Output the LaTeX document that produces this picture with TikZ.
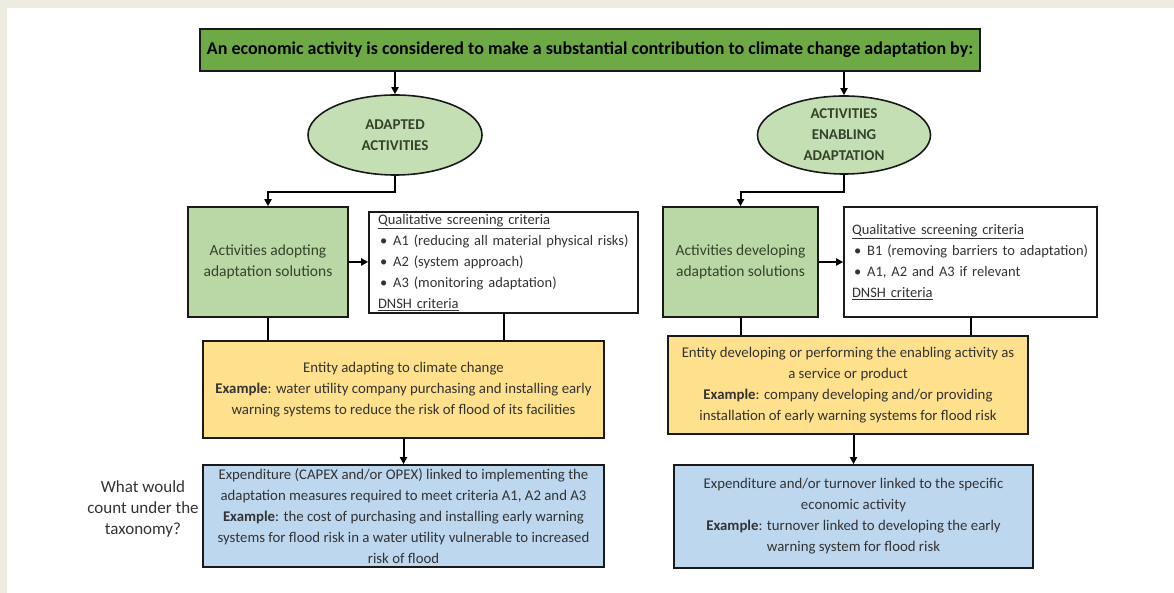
\documentclass[tikz,border=0pt]{standalone}
\usepackage{fontspec}
\setmainfont{Carlito}
\usetikzlibrary{shapes.geometric,arrows.meta}

\definecolor{pagebg}{HTML}{EEEBE0}
\definecolor{topgreen}{HTML}{6DAA45}
\definecolor{ellgreen}{HTML}{C5DFB4}
\definecolor{boxgreen}{HTML}{BAD8A5}
\definecolor{boxyellow}{HTML}{FFE08C}
\definecolor{boxblue}{HTML}{BDD7EE}
\definecolor{txtgray}{HTML}{333333}
\definecolor{txtgreen}{HTML}{34432A}

\tikzset{
    base/.style={draw=black!90, line width=1.6pt, inner sep=0pt, align=center,
        text=txtgray, font=\fontsize{14.8}{21}\selectfont},
    topbox/.style={base, fill=topgreen, line width=2.2pt, text=black,
        minimum width=780pt, minimum height=42pt,
        font=\bfseries\fontsize{18}{20}\selectfont},
    ell/.style={base, ellipse, fill=ellgreen, inner xsep=0pt, inner ysep=-8pt,
        text=txtgreen, font=\bfseries\fontsize{15}{21}\selectfont},
    greenbox/.style={base, fill=boxgreen, text=txtgreen,
        font=\fontsize{15.5}{21}\selectfont},
    critbox/.style={base, fill=white, align=left,
        font=\fontsize{14.5}{21}\selectfont},
    yellowbox/.style={base, fill=boxyellow},
    bluebox/.style={base, fill=boxblue},
    arr/.style={line width=2pt, -{Triangle[length=7pt,width=7pt]}},
    link/.style={line width=2pt}
}
\newcommand{\critbullet}[1]{\mbox{\hspace*{2pt}\textbullet\hspace{6pt}#1}}

\begin{document}
\begin{tikzpicture}[x=1pt,y=-1pt]
    \useasboundingbox (0,0) rectangle (1174,593);
    \fill[pagebg] (0,0) rectangle (1174,8);
    \fill[pagebg] (0,0) rectangle (7,593);

    \node[topbox] (top) at (590,50) {An economic activity is considered to make a substantial contribution to climate change adaptation by:};

    \node[ell, minimum width=174pt, minimum height=80pt] (adapted) at (395,135) {ADAPTED\\ACTIVITIES};
    \node[ell, minimum width=173pt, minimum height=78pt] (enabling) at (844,135) {ACTIVITIES\\ENABLING\\ADAPTATION};

    \node[greenbox, minimum width=160pt, minimum height=110pt] (adopting) at (268,262) {Activities adopting\\adaptation solutions};
    \node[greenbox, minimum width=155pt, minimum height=110pt] (developing) at (740.5,262) {Activities developing\\adaptation solutions};

    \node[critbox, minimum width=269pt, minimum height=101pt, text width=251pt] (critA) at (503.5,262.5) {%
        \underline{Qualitative screening criteria}\\
        \critbullet{A1 (reducing all material physical risks)}\\
        \critbullet{A2 (system approach)}\\
        \critbullet{A3 (monitoring adaptation)}\\
        \underline{DNSH criteria}};
    \node[critbox, minimum width=253pt, minimum height=110pt, text width=237pt] (critB) at (970.5,262) {%
        \underline{Qualitative screening criteria}\\
        \critbullet{B1 (removing barriers to adaptation)}\\
        \critbullet{A1, A2 and A3 if relevant}\\
        \underline{DNSH criteria}};

    \node[yellowbox, minimum width=401pt, minimum height=97pt] (entityA) at (403.5,389.5) {Entity adapting to climate change\\
        \textbf{Example}: water utility company purchasing and installing early\\
        warning systems to reduce the risk of flood of its facilities};
    \node[yellowbox, minimum width=360pt, minimum height=98pt] (entityB) at (848,385) {Entity developing or performing the enabling activity as\\
        a service or product\\
        \textbf{Example}: company developing and/or providing\\
        installation of early warning systems for flood risk};

    \node[bluebox, minimum width=401pt, minimum height=102pt, inner ysep=-2pt] (countA) at (403.5,516) {Expenditure (CAPEX and/or OPEX) linked to implementing the\\
        adaptation measures required to meet criteria A1, A2 and A3\\
        \textbf{Example}: the cost of purchasing and installing early warning\\
        systems for flood risk in a water utility vulnerable to increased\\
        risk of flood};
    \node[bluebox, minimum width=359pt, minimum height=103pt] (countB) at (853.5,516.5) {Expenditure and/or turnover linked to the specific\\
        economic activity\\
        \textbf{Example}: turnover linked to developing the early\\
        warning system for flood risk};

    \node[align=center, text=txtgray, font=\fontsize{17}{21}\selectfont] (question) at (143,509) {What would\\count under the\\taxonomy?};

    % arrows from the heading
    \draw[arr] (adapted.north |- top.south) -- (adapted.north);
    \draw[arr] (enabling.north |- top.south) -- (enabling.north);
    \draw[arr] (adapted.south) -- ++(0,16) -| (adopting.north);
    \draw[arr] (enabling.south) -- ++(0,17.5) -| (developing.north);

    \draw[arr] (adopting.east) -- (critA.west |- adopting.east);
    \draw[arr] (developing.east) -- (critB.west |- developing.east);

    % joins into the entity boxes
    \draw[link] (adopting.south) -- (adopting.south |- entityA.north);
    \draw[link] (critA.south) -- (critA.south |- entityA.north);
    \draw[link] (developing.south) -- (developing.south |- entityB.north);
    \draw[link] (critB.south) -- (critB.south |- entityB.north);

    \draw[arr] (entityA.south) -- (countA.north);
    \draw[arr] (countB.north |- entityB.south) -- (countB.north);
\end{tikzpicture}
\end{document}
